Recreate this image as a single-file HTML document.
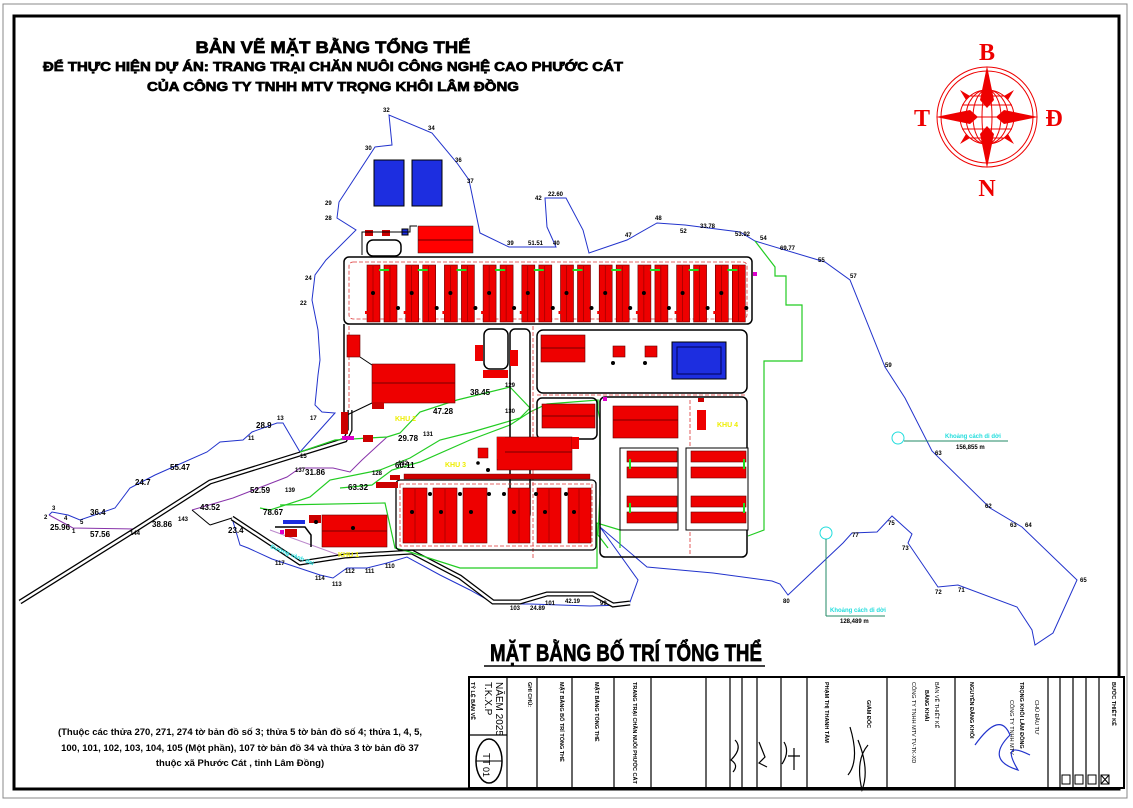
<!DOCTYPE html>
<html><head><meta charset="utf-8"><style>
html,body{margin:0;padding:0;background:#fff;width:1133px;height:808px;overflow:hidden}
svg{display:block}
text{font-family:"Liberation Sans",sans-serif;font-weight:bold}
.n{font-size:6px;fill:#000}
.hv{stroke:#000;stroke-width:0.7}
</style></head><body>
<svg width="1133" height="808" viewBox="0 0 1133 808" xmlns="http://www.w3.org/2000/svg">
<!-- frames -->
<rect x="3" y="4" width="1124" height="794" fill="none" stroke="#888" stroke-width="1"/>
<rect x="14" y="16" width="1105" height="773" fill="none" stroke="#000" stroke-width="3"/>

<!-- titles -->
<text class="hv" x="333" y="53" font-size="17" text-anchor="middle" textLength="275" lengthAdjust="spacingAndGlyphs">BẢN VẼ MẶT BẰNG TỔNG THỂ</text>
<text class="hv" x="333" y="71" font-size="13" text-anchor="middle" textLength="580" lengthAdjust="spacingAndGlyphs">ĐỂ THỰC HIỆN DỰ ÁN: TRANG TRẠI CHĂN NUÔI CÔNG NGHỆ CAO PHƯỚC CÁT</text>
<text class="hv" x="333" y="91" font-size="13" text-anchor="middle" textLength="372" lengthAdjust="spacingAndGlyphs">CỦA CÔNG TY TNHH MTV TRỌNG KHÔI LÂM ĐỒNG</text>

<!-- compass -->
<g stroke="#e00" fill="none" stroke-width="1">
<circle cx="987" cy="117" r="50"/><circle cx="987" cy="117" r="46"/>
<circle cx="987" cy="117" r="27"/>
<ellipse cx="987" cy="117" rx="14" ry="27"/><ellipse cx="987" cy="117" rx="5" ry="27"/><ellipse cx="987" cy="117" rx="21" ry="27"/>
<line x1="960" y1="117" x2="1014" y2="117"/><line x1="962" y1="105" x2="1012" y2="105"/><line x1="962" y1="129" x2="1012" y2="129"/><line x1="967" y1="96" x2="1007" y2="96"/><line x1="967" y1="138" x2="1007" y2="138"/>
</g>
<g fill="#e00">
<polygon points="987,66 980,100 987,108 994,100"/><polygon points="987,168 980,134 987,126 994,134"/>
<polygon points="936,117 970,110 978,117 970,124"/><polygon points="1038,117 1004,110 996,117 1004,124"/>
<polygon points="960,90 970,96 966,100"/><polygon points="1014,90 1004,96 1008,100"/><polygon points="960,144 970,138 966,134"/><polygon points="1014,144 1004,138 1008,134"/>
</g>
<g fill="#e00" font-size="24" text-anchor="middle" style="font-family:'Liberation Serif',serif">
<text x="987" y="60" style="font-family:'Liberation Serif',serif">B</text><text x="922" y="126" style="font-family:'Liberation Serif',serif">T</text><text x="1054" y="126" style="font-family:'Liberation Serif',serif">Đ</text><text x="987" y="196" style="font-family:'Liberation Serif',serif">N</text>
</g>

<!-- boundary blue -->
<polyline fill="none" stroke="#2233cc" stroke-width="1" points="49,515 52,512 68,515 80,520 115,508 130,488 155,475 207,452 220,442 243,440 252,432 277,423 283,423 300,452 335,413 322,412 315,405 318,375 320,360 318,330 312,300 315,275 326,260 356,230 337,218 339,202 375,147 392,145 389,115 432,133 457,163 469,180 480,233 509,247 556,247 547,227 545,198 566,198 583,230 589,253 627,240 657,223 685,225 740,232 755,241 825,262 850,280 885,367 905,398 932,451 990,508 1022,527 1077,580 1053,633 1035,645 1032,630 1017,607 958,585 938,587 908,543 912,534 892,516 877,532 852,533 843,543 788,595 780,584 772,581 713,573 647,567 600,527 638,580 630,602 625,605"/>
<polyline fill="none" stroke="#2233cc" stroke-width="1" points="625,605 590,606 560,605 530,604 495,604 470,590 440,575 407,557 387,563 367,568 347,568 333,578 320,575 272,559 248,548 240,545 232,518"/>
<polyline fill="none" stroke="#8833aa" stroke-width="1" points="49,515 73,528 135,529"/>
<polyline fill="none" stroke="#8833aa" stroke-width="1" points="192,510 233,498 287,477 300,468 333,468 350,472 362,460 387,437"/>
<polyline fill="none" stroke="#bb88cc" stroke-width="1" points="270,530 347,558 410,550"/>

<!-- roads -->
<g fill="none" stroke="#000" stroke-width="5"><polyline points="20,602 135,530 210,482 345,440 350,430 350,410"/><polyline points="232,518 300,563 345,556 412,552 460,577 493,602 520,602 547,594 593,594 613,605 630,603"/></g>
<g fill="none" stroke="#fff" stroke-width="2.5"><polyline points="20,602 135,530 210,482 345,440 350,430 350,410"/><polyline points="232,518 300,563 345,556 412,552 460,577 493,602 520,602 547,594 593,594 613,605 630,603"/></g>
<line x1="192" y1="510" x2="210" y2="525" stroke="#000"/><line x1="210" y1="525" x2="232" y2="518" stroke="#000"/>

<!-- green lines -->
<g fill="none" stroke="#22cc22" stroke-width="1.2">
<polyline points="755,241 775,267 775,276 786,276 786,305 802,305 802,361 764,361 764,530 748,536"/>
<polyline points="300,452 335,440 387,437 400,433 420,412 457,400 510,387 530,408 520,418 472,432 440,440 410,458 380,470 330,480 310,497 270,510 260,508"/>
<polyline points="340,488 372,485 392,470 420,462 470,440 510,425 530,412 547,404 598,400 598,410 600,420 600,495 598,535 608,548"/>
<polyline points="280,505 385,503 395,548 410,552"/>
<polyline points="410,552 460,568 597,568 597,523 620,530 620,548"/>
</g>

<!-- pools top -->
<g><rect x="374" y="160" width="30" height="46" fill="#1d2ee0" stroke="#000"/><rect x="412" y="160" width="30" height="46" fill="#1d2ee0" stroke="#000"/></g>
<rect x="418" y="226" width="55" height="27" fill="#f00" stroke="#222" stroke-width="0.5"/><line x1="418" y1="240" x2="473" y2="240" stroke="#600"/>
<rect x="365" y="230" width="8" height="6" fill="#c00"/><rect x="382" y="230" width="8" height="6" fill="#c00"/><rect x="402" y="229" width="6" height="6" fill="#1d2ee0" stroke="#000"/>
<rect x="367" y="240" width="34" height="16" rx="6" fill="none" stroke="#000" stroke-width="1.5"/>
<polyline points="362,255 362,232 410,232 410,226 417,226" fill="none" stroke="#000" stroke-width="1"/>

<!-- top barn block -->
<rect x="344" y="257" width="408" height="67" rx="5" fill="#fff" stroke="#000" stroke-width="1.5"/>
<rect x="349" y="262" width="398" height="57" rx="4" fill="none" stroke="#d33" stroke-width="0.8" stroke-dasharray="4 2"/>
<g id="bp">
<rect x="367" y="265" width="13" height="57" fill="#e00" stroke="#600" stroke-width="0.6"/>
<rect x="384" y="265" width="13" height="57" fill="#e00" stroke="#600" stroke-width="0.6"/>
<line x1="373" y1="266" x2="373" y2="321" stroke="#700" stroke-width="0.5"/><line x1="390" y1="266" x2="390" y2="321" stroke="#700" stroke-width="0.5"/>
<rect x="379" y="269" width="10" height="2" fill="#2d2"/><circle cx="373" cy="293" r="2" fill="#000"/><circle cx="398" cy="308" r="2" fill="#000"/>
<rect x="365" y="311" width="3" height="3" fill="#e00"/>
</g>
<use href="#bp" x="38.7"/><use href="#bp" x="77.4"/><use href="#bp" x="116.1"/><use href="#bp" x="154.8"/><use href="#bp" x="193.5"/><use href="#bp" x="232.2"/><use href="#bp" x="270.9"/><use href="#bp" x="309.6"/><use href="#bp" x="348.3"/>
<rect x="753" y="272" width="4" height="4" fill="#d0c"/>

<!-- middle area outlines -->
<g fill="none" stroke="#000" stroke-width="1.5">
<polyline points="344,324 344,420"/>
<rect x="484" y="329" width="24" height="40" rx="6"/>
<rect x="510" y="329" width="20" height="190" rx="5"/>
<rect x="537" y="330" width="210" height="63" rx="6"/>
<rect x="537" y="398" width="60" height="41" rx="5"/>
<rect x="600" y="397" width="147" height="160" rx="5"/>
</g>
<g fill="none" stroke="#d33" stroke-width="0.8" stroke-dasharray="4 2"><line x1="349" y1="326" x2="349" y2="410"/><line x1="533" y1="326" x2="533" y2="560"/><line x1="537" y1="395" x2="747" y2="395"/><line x1="690" y1="400" x2="690" y2="555"/></g>
<rect x="347" y="335" width="13" height="22" fill="#e00" stroke="#600" stroke-width="0.6"/>
<line x1="360" y1="357" x2="372" y2="365" stroke="#000"/>
<rect x="372" y="364" width="83" height="39" fill="#e00" stroke="#600" stroke-width="0.6"/><line x1="372" y1="383" x2="455" y2="383" stroke="#700"/>
<rect x="372" y="402" width="12" height="7" fill="#c00"/>
<line x1="372" y1="403" x2="347" y2="415" stroke="#000"/>
<rect x="475" y="345" width="8" height="16" fill="#e00"/><rect x="510" y="350" width="8" height="16" fill="#e00"/><rect x="483" y="370" width="25" height="8" fill="#e00"/>
<rect x="541" y="335" width="44" height="27" fill="#e00" stroke="#600" stroke-width="0.6"/><line x1="541" y1="348" x2="585" y2="348" stroke="#700"/>
<rect x="613" y="346" width="12" height="11" fill="#e00" stroke="#600" stroke-width="0.6"/><rect x="645" y="346" width="12" height="11" fill="#e00" stroke="#600" stroke-width="0.6"/>
<circle cx="613" cy="363" r="2" fill="#000"/><circle cx="645" cy="363" r="2" fill="#000"/>
<rect x="672" y="342" width="54" height="37" fill="#1d2ee0" stroke="#000"/><rect x="677" y="347" width="44" height="27" fill="none" stroke="#005"/>
<rect x="341" y="412" width="7" height="22" fill="#c00"/>
<rect x="342" y="436" width="12" height="4" fill="#d0c"/>
<rect x="363" y="435" width="10" height="7" fill="#c00"/>

<!-- middle-right -->
<rect x="542" y="404" width="53" height="24" fill="#e00" stroke="#600" stroke-width="0.6"/><line x1="542" y1="416" x2="595" y2="416" stroke="#700"/>
<rect x="613" y="406" width="65" height="32" fill="#e00" stroke="#600" stroke-width="0.6"/><line x1="613" y1="420" x2="678" y2="420" stroke="#700"/>
<rect x="698" y="398" width="6" height="4" fill="#c00"/><rect x="697" y="410" width="9" height="20" fill="#e00"/>
<rect x="603" y="397" width="4" height="4" fill="#d0c"/>
<rect x="620" y="448" width="58" height="82" fill="#fff" stroke="#000"/><rect x="686" y="448" width="62" height="82" fill="#fff" stroke="#000"/>
<g fill="#e00" stroke="#600" stroke-width="0.6">
<rect x="627" y="451" width="50" height="11"/><rect x="627" y="467" width="50" height="11"/><rect x="627" y="496" width="50" height="11"/><rect x="627" y="512" width="50" height="11"/>
<rect x="691" y="451" width="55" height="11"/><rect x="691" y="467" width="55" height="11"/><rect x="691" y="496" width="55" height="11"/><rect x="691" y="512" width="55" height="11"/>
</g>
<g fill="#2d2"><rect x="629" y="459" width="2" height="10"/><rect x="629" y="503" width="2" height="10"/><rect x="743" y="459" width="2" height="10"/><rect x="743" y="503" width="2" height="10"/></g>
<text x="717" y="427" font-size="7" fill="#ee0">KHU 4</text>

<!-- KHU 3 -->
<rect x="497" y="437" width="75" height="33" fill="#e00" stroke="#600" stroke-width="0.6"/><line x1="505" y1="452" x2="572" y2="452" stroke="#700"/><rect x="572" y="437" width="7" height="12" fill="#e00"/><rect x="497" y="437" width="8" height="22" fill="#e00"/>
<rect x="478" y="448" width="10" height="10" fill="#e00" stroke="#600" stroke-width="0.5"/>
<circle cx="478" cy="463" r="1.8" fill="#000"/><circle cx="488" cy="470" r="2" fill="#000"/>
<rect x="404" y="474" width="186" height="5" fill="#c00" stroke="#600" stroke-width="0.4"/>
<rect x="396" y="480" width="200" height="70" rx="4" fill="none" stroke="#000" stroke-width="1.3"/>
<rect x="400" y="484" width="192" height="62" fill="none" stroke="#d33" stroke-width="0.8" stroke-dasharray="4 2"/>
<g fill="#e00" stroke="#600" stroke-width="0.6">
<rect x="403" y="488" width="24" height="55"/><rect x="433" y="488" width="24" height="55"/><rect x="463" y="488" width="24" height="55"/>
<rect x="508" y="488" width="22" height="55"/><rect x="537" y="488" width="24" height="55"/><rect x="568" y="488" width="23" height="55"/>
</g>
<g stroke="#700" stroke-width="0.5"><line x1="415" y1="489" x2="415" y2="542"/><line x1="445" y1="489" x2="445" y2="542"/><line x1="519" y1="489" x2="519" y2="542"/><line x1="549" y1="489" x2="549" y2="542"/><line x1="579" y1="489" x2="579" y2="542"/></g>
<g fill="#000"><circle cx="412" cy="512" r="2"/><circle cx="441" cy="512" r="2"/><circle cx="471" cy="512" r="2"/><circle cx="514" cy="512" r="2"/><circle cx="545" cy="512" r="2"/><circle cx="574" cy="512" r="2"/>
<circle cx="430" cy="494" r="2"/><circle cx="460" cy="494" r="2"/><circle cx="489" cy="494" r="2"/><circle cx="504" cy="494" r="2"/><circle cx="536" cy="494" r="2"/><circle cx="566" cy="494" r="2"/></g>
<rect x="376" y="482" width="22" height="6" fill="#c00"/><rect x="390" y="475" width="10" height="5" fill="#c00"/>
<text x="445" y="467" font-size="7" fill="#ee0">KHU 3</text>
<text x="395" y="421" font-size="7" fill="#ee0">KHU 2</text>

<!-- KHU 1 -->
<rect x="322" y="515" width="65" height="32" fill="#e00" stroke="#600" stroke-width="0.6"/><line x1="322" y1="531" x2="387" y2="531" stroke="#700"/>
<circle cx="353" cy="528" r="2" fill="#000"/>
<rect x="309" y="515" width="12" height="8" fill="#c00"/><circle cx="316" cy="522" r="2" fill="#000"/>
<rect x="283" y="520" width="22" height="4" fill="#1d2ee0"/><rect x="285" y="529" width="12" height="8" fill="#c00"/><rect x="280" y="530" width="4" height="4" fill="#d0c"/>
<polyline points="275,527 305,527 311,535 311,547" fill="none" stroke="#000" stroke-width="1.5"/>
<text x="338" y="557" font-size="7" fill="#ee0">KHU 1</text>
<text x="270" y="548" font-size="6" fill="#2dd" transform="rotate(22 270 548)">Đường vành đai</text>

<!-- distance markers -->
<circle cx="898" cy="438" r="6" fill="none" stroke="#2dd"/><line x1="904" y1="441" x2="1008" y2="441" stroke="#286"/>
<text x="945" y="438" font-size="6" fill="#2dd">Khoảng cách di dời</text><text x="956" y="449" font-size="6" fill="#000">156,855 m</text>
<circle cx="826" cy="533" r="6" fill="none" stroke="#2dd"/><line x1="826" y1="539" x2="826" y2="616" stroke="#286"/><line x1="826" y1="616" x2="885" y2="616" stroke="#286"/>
<text x="830" y="612" font-size="6" fill="#2dd">Khoảng cách di dời</text><text x="840" y="623" font-size="6" fill="#000">128,489 m</text>

<!-- dimension labels -->
<g class="n" font-size="7">
<text x="44" y="519" class="n">2</text><text x="52" y="510" class="n">3</text><text x="64" y="520" class="n">4</text><text x="80" y="524" class="n">5</text><text x="72" y="533" class="n">1</text>
<text x="50" y="530" font-size="8" font-weight="normal">25.96</text><text x="90" y="537" font-size="8" font-weight="normal">57.56</text><text x="90" y="515" font-size="8" font-weight="normal">36.4</text>
<text x="130" y="535" class="n">144</text><text x="152" y="527" font-size="8" font-weight="normal">38.86</text><text x="178" y="521" class="n">143</text>
<text x="135" y="485" font-size="8" font-weight="normal">24.7</text><text x="170" y="470" font-size="8" font-weight="normal">55.47</text><text x="256" y="428" font-size="8" font-weight="normal">28.9</text>
<text x="200" y="510" font-size="8" font-weight="normal">43.52</text><text x="250" y="493" font-size="8" font-weight="normal">52.59</text><text x="263" y="515" font-size="8" font-weight="normal">78.67</text>
<text x="305" y="475" font-size="8" font-weight="normal">31.86</text><text x="398" y="441" font-size="8" font-weight="normal">29.78</text><text x="433" y="414" font-size="8" font-weight="normal">47.28</text>
<text x="470" y="395" font-size="8" font-weight="normal">38.45</text><text x="395" y="468" font-size="8" font-weight="normal">60.11</text><text x="348" y="490" font-size="8" font-weight="normal">63.32</text>
<text x="228" y="533" font-size="8" font-weight="normal">23.4</text>
<text x="310" y="420" class="n">17</text><text x="300" y="458" class="n">15</text><text x="277" y="420" class="n">13</text><text x="248" y="440" class="n">11</text>
<text x="505" y="387" class="n">129</text><text x="505" y="413" class="n">130</text><text x="423" y="436" class="n">131</text><text x="398" y="465" class="n">132</text>
<text x="295" y="472" class="n">137</text><text x="285" y="492" class="n">139</text><text x="372" y="475" class="n">128</text>
<text x="275" y="565" class="n">117</text><text x="315" y="580" class="n">114</text><text x="332" y="586" class="n">113</text><text x="345" y="573" class="n">112</text><text x="365" y="573" class="n">111</text><text x="385" y="568" class="n">110</text>
<text x="510" y="610" class="n">103</text><text x="530" y="610" class="n">24.89</text><text x="545" y="605" class="n">101</text><text x="565" y="603" class="n">42.19</text><text x="600" y="605" class="n">99</text>
<text x="383" y="112" class="n">32</text><text x="428" y="130" class="n">34</text><text x="455" y="162" class="n">36</text><text x="467" y="183" class="n">37</text>
<text x="548" y="196" class="n">22.60</text><text x="535" y="200" class="n">42</text><text x="507" y="245" class="n">39</text><text x="528" y="245" class="n">51.51</text><text x="553" y="245" class="n">40</text>
<text x="625" y="237" class="n">47</text><text x="655" y="220" class="n">48</text><text x="680" y="233" class="n">52</text><text x="700" y="228" class="n">33.78</text><text x="735" y="236" class="n">53.92</text><text x="760" y="240" class="n">54</text>
<text x="780" y="250" class="n">69.77</text><text x="818" y="262" class="n">55</text><text x="850" y="278" class="n">57</text><text x="885" y="367" class="n">59</text><text x="935" y="455" class="n">63</text>
<text x="985" y="508" class="n">62</text><text x="1010" y="527" class="n">63</text><text x="1025" y="527" class="n">64</text><text x="1080" y="582" class="n">65</text>
<text x="958" y="592" class="n">71</text><text x="935" y="594" class="n">72</text><text x="902" y="550" class="n">73</text><text x="888" y="525" class="n">75</text><text x="852" y="537" class="n">77</text><text x="783" y="603" class="n">80</text>
<text x="300" y="305" class="n">22</text><text x="305" y="280" class="n">24</text><text x="325" y="220" class="n">28</text><text x="325" y="205" class="n">29</text><text x="365" y="150" class="n">30</text>
</g>

<!-- bottom title -->
<text class="hv" x="490" y="661" font-size="24" textLength="272" lengthAdjust="spacingAndGlyphs" style="font-family:'Liberation Sans Narrow','Liberation Sans',sans-serif">MẶT BẰNG BỐ TRÍ TỔNG THỂ</text>
<line x1="484" y1="666" x2="765" y2="666" stroke="#000" stroke-width="1.5"/>

<!-- note -->
<g font-size="9.5" text-anchor="middle">
<text x="240" y="735">(Thuộc các thửa 270, 271, 274 tờ bản đồ số 3; thửa 5 tờ bản đồ số 4; thửa 1, 4, 5,</text>
<text x="240" y="751">100, 101, 102, 103, 104, 105 (Một phần), 107 tờ bản đồ 34 và thửa 3 tờ bản đồ 37</text>
<text x="240" y="766">thuộc xã Phước Cát , tỉnh Lâm Đồng)</text>
</g>

<!-- title block -->
<rect x="469" y="677" width="655" height="111" fill="#fff" stroke="#000" stroke-width="2"/>
<g stroke="#000" stroke-width="1.2">
<line x1="507" y1="677" x2="507" y2="788"/><line x1="537" y1="677" x2="537" y2="788"/><line x1="572" y1="677" x2="572" y2="788"/>
<line x1="614" y1="677" x2="614" y2="788"/><line x1="651" y1="677" x2="651" y2="788"/><line x1="706" y1="677" x2="706" y2="788"/>
<line x1="730" y1="677" x2="730" y2="788"/><line x1="742" y1="677" x2="742" y2="788"/><line x1="757" y1="677" x2="757" y2="788"/>
<line x1="781" y1="677" x2="781" y2="788"/><line x1="807" y1="677" x2="807" y2="788"/><line x1="887" y1="677" x2="887" y2="788"/>
<line x1="955" y1="677" x2="955" y2="788"/><line x1="1048" y1="677" x2="1048" y2="788"/><line x1="1099" y1="677" x2="1099" y2="788"/>
<line x1="469" y1="735" x2="507" y2="735"/><line x1="1060" y1="677" x2="1060" y2="788"/><line x1="1073" y1="677" x2="1073" y2="788"/><line x1="1086" y1="677" x2="1086" y2="788"/>
</g>
<ellipse cx="489" cy="761" rx="13" ry="22" fill="none" stroke="#000" stroke-width="1.5"/><line x1="476" y1="761" x2="502" y2="761" stroke="#000"/>
<text transform="translate(483,753) rotate(90)" font-size="10" style="font-weight:normal">TT</text>
<text transform="translate(483,767) rotate(90)" font-size="9" style="font-weight:normal">01</text>
<text transform="translate(485,682) rotate(90)" font-size="10" style="font-weight:normal">T.K.X.P</text>
<text transform="translate(496,682) rotate(90)" font-size="10" style="font-weight:normal">NĂEM 2025</text>
<g font-size="5.5">
<text transform="translate(471,682) rotate(90)">TỶ LỆ BẢN VẼ</text>
<text transform="translate(528,682) rotate(90)">GHI CHÚ:</text>
<text transform="translate(560,682) rotate(90)">MẶT BẰNG BỐ TRÍ TỔNG THỂ</text>
<text transform="translate(595,682) rotate(90)">MẶT BẰNG TỔNG THỂ</text>
<text transform="translate(633,682) rotate(90)">TRANG TRẠI CHĂN NUÔI PHƯỚC CÁT</text>
<text transform="translate(825,682) rotate(90)">PHẠM THỊ THANH TÂM</text>
<text transform="translate(867,700) rotate(90)">GIÁM ĐỐC</text>
<text transform="translate(925,690) rotate(90)">BẢNG KHẢI</text>
<text transform="translate(970,682) rotate(90)">NGUYỄN ĐĂNG KHÔI</text>
<text transform="translate(1020,682) rotate(90)">TRỌNG KHÔI LÂM ĐỒNG</text>
<text transform="translate(1112,682) rotate(90)">BƯỚC THIẾT KẾ</text>
</g>
<g font-size="5.5">
<text transform="translate(912,682) rotate(90)" style="font-weight:normal">CÔNG TY TNHH MTV TV-TK-XD</text>
<text transform="translate(935,682) rotate(90)" style="font-weight:normal">BẢN VẼ THIẾT KẾ</text>
<text transform="translate(1010,700) rotate(90)" style="font-weight:normal">CÔNG TY TNHH MTV</text>
<text transform="translate(1035,700) rotate(90)" style="font-weight:normal">CHỦ ĐẦU TƯ</text>
</g>
<g fill="none" stroke="#000" stroke-width="1.2">
<path d="M850,727 Q860,760 848,775"/><path d="M858,740 Q870,770 862,790 Q855,760 868,745"/>
<path d="M735,740 q8,8 -4,20 q8,5 2,12"/><path d="M759,742 l6,15 l-6,6 l8,4"/><path d="M784,742 q6,10 -2,22"/><path d="M794,748 l0,22 m-6,-14 l12,0"/>
</g>
<path d="M975,745 Q1000,710 1010,735 Q985,760 1018,770 Q1000,740 1030,755" fill="none" stroke="#2233cc" stroke-width="1.2"/>
<g fill="none" stroke="#000"><rect x="1062" y="775" width="8" height="9"/><rect x="1075" y="775" width="8" height="9"/><rect x="1088" y="775" width="8" height="9"/><rect x="1101" y="775" width="8" height="9"/><path d="M1101,775 l8,9 m0,-9 l-8,9"/></g>
</svg>
</body></html>
